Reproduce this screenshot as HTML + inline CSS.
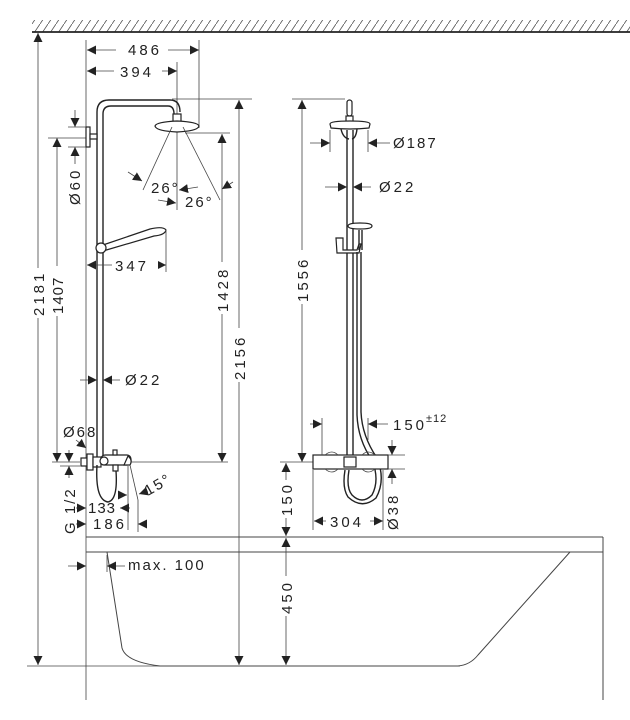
<!DOCTYPE html>
<html><head><meta charset="utf-8"><style>
html,body{margin:0;padding:0;background:#fff;}
svg{display:block;}
text{font-family:"Liberation Sans",sans-serif;font-size:15px;fill:#222;letter-spacing:3px;}
.d{stroke:#444;stroke-width:0.8;fill:none;}
.o{stroke:#222;stroke-width:1.4;fill:none;}
.of{stroke:#222;stroke-width:1.2;fill:#fff;}
</style></head><body>
<svg width="630" height="720" viewBox="0 0 630 720" xmlns="http://www.w3.org/2000/svg">
<defs>
<marker id="a" viewBox="0 0 10 10" refX="10" refY="5" markerWidth="9" markerHeight="9" markerUnits="userSpaceOnUse" orient="auto-start-reverse"><path d="M0,0 L10,5 L0,10 z" fill="#222"/></marker>
<pattern id="h" width="8" height="12" patternUnits="userSpaceOnUse"><line x1="0" y1="12" x2="8" y2="0" stroke="#555" stroke-width="0.8"/></pattern>
</defs>
<rect x="32" y="20" width="598" height="12" fill="url(#h)"/>
<line x1="32" y1="32" x2="630" y2="32" stroke="#222" stroke-width="1.8"/>
<line x1="27" y1="666" x2="460" y2="666" class="d"/>
<line x1="38" y1="33" x2="38" y2="665" class="d" marker-start="url(#a)" marker-end="url(#a)"/>
<rect x="30" y="268" width="16" height="50" fill="#fff"/>
<text transform="translate(44,316) rotate(-90)">2181</text>
<line x1="48" y1="138" x2="90" y2="138" class="d"/>
<line x1="57" y1="138" x2="57" y2="462" class="d" marker-start="url(#a)" marker-end="url(#a)"/>
<rect x="50" y="266" width="14" height="50" fill="#fff"/>
<text transform="translate(63,314) rotate(-90)" style="letter-spacing:1px">1407</text>
<line x1="86" y1="40" x2="86" y2="700" class="d"/>
<line x1="199" y1="40" x2="199" y2="128" class="d"/>
<line x1="177" y1="62" x2="177" y2="210" class="d"/>
<line x1="87" y1="50" x2="199" y2="50" class="d" marker-start="url(#a)" marker-end="url(#a)"/>
<rect x="116" y="42" width="52" height="16" fill="#fff"/>
<text x="128" y="55">486</text>
<line x1="87" y1="71" x2="177" y2="71" class="d" marker-start="url(#a)" marker-end="url(#a)"/>
<rect x="114" y="63" width="48" height="16" fill="#fff"/>
<text x="120" y="77">394</text>
<path class="o" d="M97,462 V112 Q97,100 109,100 H170 Q180,100 180,112"/>
<path class="o" d="M103,462 V114 Q103,106 111,106 H168 Q174,106 174,114"/>
<rect x="173" y="114" width="8" height="8" class="of"/>
<path class="of" d="M155,126 Q156,122 177,121 Q198,122 199,126 Q198,131 177,132 Q156,131 155,126 z"/>
<rect x="86" y="127" width="4" height="20" class="of"/>
<rect x="90" y="134" width="7" height="5" class="of"/>
<line x1="68" y1="127" x2="86" y2="127" class="d"/>
<line x1="68" y1="147" x2="86" y2="147" class="d"/>
<line x1="75" y1="110" x2="75" y2="127" class="d" marker-end="url(#a)"/>
<line x1="75" y1="164" x2="75" y2="147" class="d" marker-end="url(#a)"/>
<text transform="translate(80,205) rotate(-90)">Ø60</text>
<line x1="172" y1="99" x2="252" y2="99" class="d"/>
<line x1="185" y1="133" x2="230" y2="133" class="d"/>
<line x1="222" y1="134" x2="222" y2="462" class="d" marker-start="url(#a)" marker-end="url(#a)"/>
<rect x="214" y="262" width="16" height="52" fill="#fff"/>
<text transform="translate(228,312) rotate(-90)">1428</text>
<line x1="239" y1="100" x2="239" y2="665" class="d" marker-start="url(#a)" marker-end="url(#a)"/>
<rect x="231" y="328" width="16" height="54" fill="#fff"/>
<text transform="translate(245,380) rotate(-90)">2156</text>
<line x1="172" y1="127" x2="143" y2="190" class="d"/>
<line x1="183" y1="127" x2="220" y2="200" class="d"/>
<line x1="128" y1="172" x2="142" y2="181" class="d" marker-end="url(#a)"/>
<line x1="233" y1="182" x2="222" y2="189" class="d" marker-end="url(#a)"/>
<line x1="198" y1="187" x2="179" y2="190" class="d" marker-end="url(#a)"/>
<line x1="158" y1="200" x2="176" y2="203" class="d" marker-end="url(#a)"/>
<text x="151" y="193" style="letter-spacing:2px">26°</text>
<text x="185" y="207" style="letter-spacing:2px">26°</text>
<path class="of" d="M100,246 L150,229 Q163,226 166,230 Q165,235 154,236 L103,251 z"/>
<circle cx="101" cy="248" r="5" class="of"/>
<line x1="166" y1="230" x2="166" y2="272" class="d"/>
<line x1="87" y1="265" x2="166" y2="265" class="d" marker-start="url(#a)" marker-end="url(#a)"/>
<rect x="112" y="257" width="46" height="16" fill="#fff"/>
<text x="115" y="271">347</text>
<line x1="80" y1="380" x2="97" y2="380" class="d" marker-end="url(#a)"/>
<line x1="120" y1="380" x2="103" y2="380" class="d" marker-end="url(#a)"/>
<text x="125" y="385">Ø22</text>
<line x1="130" y1="462" x2="228" y2="462" class="d"/>
<rect x="81" y="458" width="6" height="8" class="of"/>
<rect x="87" y="454" width="6" height="16" class="of"/>
<rect x="93" y="457" width="8" height="10" class="of"/>
<rect x="101" y="455" width="30" height="10" rx="4" class="of"/>
<circle cx="104" cy="461" r="4" class="of"/>
<path class="of" d="M128,456 Q133,460 130,465 L124,465 z"/>
<rect x="113" y="450" width="4" height="5" class="of"/>
<rect x="113" y="465" width="5" height="6" class="of"/>
<path class="o" d="M97,465 Q95,500 108,502 Q118,500 116,471" />
<line x1="130" y1="465" x2="138" y2="500" class="d"/>
<line x1="128" y1="466" x2="128" y2="530" class="d"/>
<line x1="118" y1="495" x2="127" y2="495" class="d" marker-end="url(#a)"/>
<line x1="148" y1="491" x2="139" y2="494" class="d" marker-end="url(#a)"/>
<text transform="translate(148,496) rotate(-30)" style="letter-spacing:2px">15°</text>
<text x="63" y="437" style="letter-spacing:2px">Ø68</text>
<line x1="76" y1="440" x2="86" y2="448" class="d" marker-end="url(#a)"/>
<line x1="52" y1="462" x2="80" y2="462" class="d"/>
<line x1="60" y1="466" x2="80" y2="466" class="d"/>
<line x1="69" y1="450" x2="69" y2="462" class="d" marker-end="url(#a)"/>
<line x1="69" y1="478" x2="69" y2="466" class="d" marker-end="url(#a)"/>
<text transform="translate(75,534) rotate(-90)" style="letter-spacing:2px">G 1/2</text>
<line x1="76" y1="508" x2="86" y2="508" class="d" marker-end="url(#a)"/>
<text x="88" y="513" style="letter-spacing:1px">133</text>
<line x1="130" y1="508" x2="120" y2="508" class="d" marker-end="url(#a)" />
<line x1="138" y1="500" x2="138" y2="532" class="d"/>
<line x1="76" y1="524" x2="86" y2="524" class="d" marker-end="url(#a)"/>
<text x="93" y="529">186</text>
<line x1="147" y1="524" x2="138" y2="524" class="d" marker-end="url(#a)"/>
<line x1="86" y1="537" x2="603" y2="537" class="d" style="stroke-width:1"/>
<line x1="86" y1="552" x2="603" y2="552" class="d" style="stroke-width:1"/>
<line x1="603" y1="537" x2="603" y2="700" class="d" style="stroke-width:1"/>
<path class="d" style="stroke-width:1" d="M107,552 L122,648 Q126,662 160,666 H458 Q470,665 478,655 L570,552"/>
<line x1="68" y1="566" x2="86" y2="566" class="d" marker-end="url(#a)"/>
<line x1="107" y1="555" x2="107" y2="572" class="d"/>
<line x1="125" y1="566" x2="107" y2="566" class="d" marker-end="url(#a)"/>
<text x="128" y="570" style="letter-spacing:2px">max. 100</text>
<line x1="292" y1="99" x2="345" y2="99" class="d"/>
<line x1="302" y1="100" x2="302" y2="462" class="d" marker-start="url(#a)" marker-end="url(#a)"/>
<rect x="294" y="250" width="16" height="54" fill="#fff"/>
<text transform="translate(308,302) rotate(-90)">1556</text>
<line x1="280" y1="462" x2="313" y2="462" class="d"/>
<rect x="347" y="100" width="5" height="16" rx="2.5" class="of"/>
<rect x="346" y="116" width="7" height="6" class="of"/>
<path class="of" d="M330,124 Q330,121 350,121 Q370,121 370,124 L369,128 Q350,130 331,128 z"/>
<path class="o" d="M341,129 Q343,138 349,139 M357,129 Q356,138 352,139"/>
<line x1="347" y1="130" x2="347" y2="462" class="o"/>
<line x1="353" y1="130" x2="353" y2="462" class="o"/>
<line x1="330" y1="130" x2="330" y2="152" class="d"/>
<line x1="368" y1="130" x2="368" y2="152" class="d"/>
<line x1="310" y1="143" x2="330" y2="143" class="d" marker-end="url(#a)"/>
<line x1="390" y1="143" x2="368" y2="143" class="d" marker-end="url(#a)"/>
<text x="393" y="148" style="letter-spacing:2px">Ø187</text>
<line x1="325" y1="187" x2="347" y2="187" class="d" marker-end="url(#a)"/>
<line x1="371" y1="187" x2="353" y2="187" class="d" marker-end="url(#a)"/>
<text x="379" y="192">Ø22</text>
<path class="of" d="M348,226 Q348,223 360,223 Q372,223 372,226 Q372,229 360,229 Q348,229 348,226 z"/>
<path class="of" d="M336,238 L343,238 L343,250 L357,250 L359,244 L361,244 L359,253 L337,253 z"/>
<line x1="359" y1="230" x2="359" y2="250" class="o"/>
<line x1="362" y1="230" x2="362" y2="250" class="o"/>
<path class="o" d="M357,252 V415 Q358,440 372,460 Q380,480 372,495 Q362,505 352,495 Q346,488 349,470"/>
<path class="o" d="M361,252 V412 Q362,436 377,458 Q386,480 376,498 Q362,510 348,497 Q342,488 345,470"/>
<rect x="313" y="455" width="75" height="14" class="of"/>
<path class="d" d="M325,455 Q332,449 338,455 M325,469 Q332,475 338,469 M362,455 Q368,449 375,455 M362,469 Q368,475 375,469"/>
<rect x="344" y="457" width="12" height="10" class="of"/>
<line x1="322" y1="418" x2="322" y2="455" class="d"/>
<line x1="368" y1="418" x2="368" y2="440" class="d"/>
<line x1="310" y1="424" x2="322" y2="424" class="d" marker-end="url(#a)"/>
<line x1="388" y1="424" x2="368" y2="424" class="d" marker-end="url(#a)"/>
<text x="393" y="430">150</text>
<text x="426" y="422" style="font-size:11px;letter-spacing:1px">±12</text>
<line x1="388" y1="455" x2="405" y2="455" class="d"/>
<line x1="388" y1="469" x2="405" y2="469" class="d"/>
<line x1="392" y1="440" x2="392" y2="455" class="d" marker-end="url(#a)"/>
<line x1="392" y1="484" x2="392" y2="469" class="d" marker-end="url(#a)"/>
<text transform="translate(398,530) rotate(-90)">Ø38</text>
<line x1="313" y1="470" x2="313" y2="530" class="d"/>
<line x1="383" y1="470" x2="383" y2="530" class="d"/>
<line x1="314" y1="521" x2="383" y2="521" class="d" marker-start="url(#a)" marker-end="url(#a)"/>
<rect x="326" y="513" width="44" height="16" fill="#fff"/>
<text x="330" y="527">304</text>
<line x1="286" y1="463" x2="286" y2="536" class="d" marker-start="url(#a)" marker-end="url(#a)"/>
<rect x="278" y="480" width="16" height="38" fill="#fff"/>
<text transform="translate(292,516) rotate(-90)">150</text>
<line x1="286" y1="538" x2="286" y2="665" class="d" marker-start="url(#a)" marker-end="url(#a)"/>
<rect x="278" y="576" width="16" height="40" fill="#fff"/>
<text transform="translate(292,614) rotate(-90)">450</text>
</svg>
</body></html>
